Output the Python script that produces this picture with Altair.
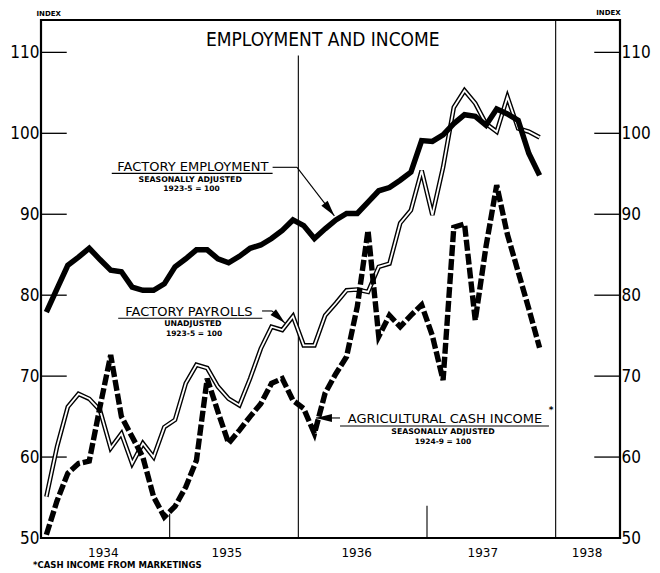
import altair as alt
import pandas as pd

# ---------------- data (monthly, Jan 1934 - Nov 1937) ----------------
employment = [77.9, 80.8, 83.7, 84.7, 85.8, 84.4, 83.1, 82.9, 81.0, 80.6, 80.6, 81.4,
              83.5, 84.5, 85.6, 85.6, 84.5, 84.0, 84.8, 85.8, 86.2, 87.0, 88.0, 89.3,
              88.6, 87.0, 88.2, 89.3, 90.1, 90.1, 91.5, 92.9, 93.3, 94.2, 95.2, 99.1,
              99.0, 99.8, 101.2, 102.3, 102.1, 101.0, 103.0, 102.4, 101.6, 97.5, 94.8]
payrolls = [55.1, 61.3, 66.2, 67.8, 67.2, 65.8, 61.1, 62.9, 59.2, 61.7, 60.0, 63.7,
            64.6, 69.1, 71.4, 71.0, 68.7, 67.2, 66.4, 69.7, 73.4, 76.1, 75.7, 77.4,
            73.8, 73.8, 77.5, 79.0, 80.6, 80.7, 80.4, 83.5, 83.9, 88.9, 90.5, 95.4,
            89.9, 95.8, 103.2, 105.3, 103.7, 101.2, 100.2, 104.5, 100.6, 100.2, 99.5]
agri_income = [50.4, 54.6, 58.0, 59.2, 59.5, 66.2, 72.6, 65.0, 62.5, 60.0, 55.1, 52.6,
               53.9, 56.3, 59.6, 69.7, 65.6, 61.7, 63.3, 65.0, 66.6, 69.1, 69.7, 67.0,
               66.0, 62.9, 67.9, 70.3, 72.4, 78.6, 88.0, 74.9, 77.5, 76.1, 77.5, 78.8,
               75.0, 69.5, 88.4, 88.8, 76.9, 86.0, 93.6, 87.5, 82.9, 78.3, 73.5]
years = [1934, 1935, 1936, 1937, 1938]
year_label_pos = [1934.48, 1935.44, 1936.45, 1937.43, 1938.24]
y_ticks = [50, 60, 70, 80, 90, 100, 110]

n = len(employment)
t = [1934 + (i + 0.5) / 12 for i in range(n)]
df = pd.DataFrame({"t": t, "emp": employment, "pay": payrolls, "agr": agri_income})

NARROW = "Liberation Sans Narrow, DejaVu Sans Condensed, Liberation Sans, sans-serif"
LBL = "DejaVu Sans, Liberation Sans, sans-serif"

XS = alt.Scale(domain=[1934, 1938.5], nice=False, zero=False)
YS = alt.Scale(domain=[50, 114], nice=False, zero=False)
XAX = alt.Axis(values=year_label_pos, labelExpr="floor(datum.value)", ticks=False, domain=False,
               grid=False, labelFont=LBL, labelFontSize=12, labelPadding=9,
               labelColor="black", labelFlush=False, title=None)


def X(field="t"):
    return alt.X(f"{field}:Q", scale=XS, axis=XAX)


def Y(field="v", axis=None):
    return alt.Y(f"{field}:Q", scale=YS, axis=axis)


base = alt.Chart(df)

# year boundary lines
vlines = pd.DataFrame({"t": years[1:], "v": [50, 50, 50, 50], "v2": [53.0, 109.6, 54.0, 114]})
vl = alt.Chart(vlines).mark_rule(color="black", strokeWidth=1.1).encode(
    x=X(), y=Y(), y2=alt.Y2("v2:Q"))

# inner ticks with axes
lt = pd.DataFrame({"v": y_ticks, "t": [1934.0] * 7, "t2": [1934.2] * 7})
rt = pd.DataFrame({"v": y_ticks, "t": [1938.3] * 7, "t2": [1938.5] * 7})
left_axis = alt.Axis(orient="left", values=y_ticks, ticks=False, domain=False, grid=False,
                     labelFont=NARROW, labelFontSize=17, labelPadding=2,
                     labelColor="black", title=None)
right_axis = alt.Axis(orient="right", values=y_ticks, ticks=False, domain=False, grid=False,
                      labelFont=NARROW, labelFontSize=17, labelPadding=1,
                      labelColor="black", title=None)
ltick = alt.Chart(lt).mark_rule(color="black", strokeWidth=1.3).encode(
    x=X(), x2=alt.X2("t2:Q"), y=Y("v", left_axis))
rtick = alt.Chart(rt).mark_rule(color="black", strokeWidth=1.3).encode(
    x=X(), x2=alt.X2("t2:Q"), y=Y("v", right_axis))

# series
pay_out = base.mark_line(color="black", strokeWidth=4.6, strokeJoin="miter").encode(x=X(), y=Y("pay"))
pay_in = base.mark_line(color="white", strokeWidth=1.8, strokeJoin="miter").encode(x=X(), y=Y("pay"))
emp = base.mark_line(color="black", strokeWidth=5.5, strokeJoin="miter").encode(x=X(), y=Y("emp"))
agr = base.mark_line(color="black", strokeWidth=5.4, strokeJoin="miter",
                     strokeDash=[11, 3]).encode(x=X(), y=Y("agr"))

# annotation text
main_lbl = pd.DataFrame({"t": [1935.18, 1935.15, 1937.14], "v": [95.3, 77.4, 64.2],
                         "txt": ["FACTORY EMPLOYMENT", "FACTORY PAYROLLS", "AGRICULTURAL CASH INCOME"]})
sub_lbl = pd.DataFrame({"t": [1935.16, 1935.18, 1937.124], "v": [93.95, 76.15, 62.85],
                        "txt": ["SEASONALLY ADJUSTED", "UNADJUSTED", "SEASONALLY ADJUSTED"]})
base_lbl = pd.DataFrame({"t": [1935.17, 1935.19, 1937.124], "v": [92.85, 74.95, 61.61],
                         "txt": ["1923-5 = 100", "1923-5 = 100", "1924-9 = 100"]})
t_main = alt.Chart(main_lbl).mark_text(font=LBL, fontSize=13, align="center", baseline="alphabetic",
                                       color="black").encode(x=X(), y=Y(), text="txt:N")
t_sub = alt.Chart(sub_lbl).mark_text(font=LBL, fontSize=7.8, fontWeight="bold", align="center",
                                     baseline="alphabetic", color="black").encode(
    x=X(), y=Y(), text="txt:N")
t_base = alt.Chart(base_lbl).mark_text(font=LBL, fontSize=7.5, fontWeight="bold", align="center",
                                       baseline="alphabetic", color="black").encode(
    x=X(), y=Y(), text="txt:N")
star = alt.Chart(pd.DataFrame({"t": [1937.964], "v": [65.44], "txt": ["*"]})).mark_text(
    font=LBL, fontSize=9, fontWeight="bold", align="center", baseline="alphabetic", color="black").encode(
    x=X(), y=Y(), text="txt:N")

title = alt.Chart(pd.DataFrame({"t": [1936.19], "v": [111.53], "txt": ["EMPLOYMENT AND INCOME"]})).mark_text(
    font=NARROW, fontSize=19, align="center", baseline="middle", color="black").encode(
    x=X(), y=Y(), text="txt:N")
index_lbl = alt.Chart(pd.DataFrame({"t": [1934.06, 1938.41], "v": [114.5, 114.62],
                                    "txt": ["INDEX", "INDEX"]})).mark_text(
    font=LBL, fontSize=7, fontWeight="bold", align="center", baseline="alphabetic",
    color="black").encode(x=X(), y=Y(), text="txt:N")
foot = alt.Chart(pd.DataFrame({"t": [1933.938], "v": [46.3], "txt": ["*CASH INCOME FROM MARKETINGS"]})).mark_text(
    font=LBL, fontSize=8.5, fontWeight="bold", align="left", baseline="alphabetic",
    color="black").encode(x=X(), y=Y(), text="txt:N")

# underlines and leaders
underl = pd.DataFrame({"t": [1934.55, 1934.60, 1936.324], "t2": [1935.80, 1935.72, 1937.948],
                       "v": [95.05, 77.15, 63.84]})
u_rule = alt.Chart(underl).mark_rule(color="black", strokeWidth=1.1).encode(
    x=X(), x2=alt.X2("t2:Q"), y=Y())
leaders = pd.DataFrame({"t": [1935.80, 1935.99, 1935.718, 1935.795, 1936.324],
                        "v": [95.8, 95.8, 78.05, 78.05, 64.83],
                        "t2": [1935.99, 1936.28, 1935.795, 1935.896, 1936.137],
                        "v2": [95.8, 89.8, 78.05, 76.56, 64.83]})
l_rule = alt.Chart(leaders).mark_rule(color="black", strokeWidth=1.1).encode(
    x=X(), x2=alt.X2("t2:Q"), y=Y(), y2=alt.Y2("v2:Q"))

HEAD = "M0,0L0.5,2L-0.5,2Z"
arrows = []
for tt, vv, ang in [(1936.28, 89.8, 142), (1935.896, 76.56, 133), (1936.137, 64.83, 270)]:
    arrows.append(alt.Chart(pd.DataFrame({"t": [tt], "v": [vv]})).mark_point(
        shape=HEAD, filled=True, size=256, angle=ang, color="black", opacity=1,
        strokeWidth=0).encode(x=X(), y=Y()))

chart = alt.layer(
    vl, ltick, rtick, pay_out, pay_in, emp, agr,
    t_main, t_sub, t_base, star, title, index_lbl, foot, u_rule, l_rule, *arrows
).resolve_scale(y="independent").properties(
    width=579, height=518,
    autosize=alt.AutoSizeParams(type="none"),
    padding={"left": 33, "top": 12, "right": 31, "bottom": 32},
    background="white",
).configure_view(stroke="black", strokeWidth=2.2)

chart.save("out.html", embed_options={"renderer": "svg", "actions": False})
